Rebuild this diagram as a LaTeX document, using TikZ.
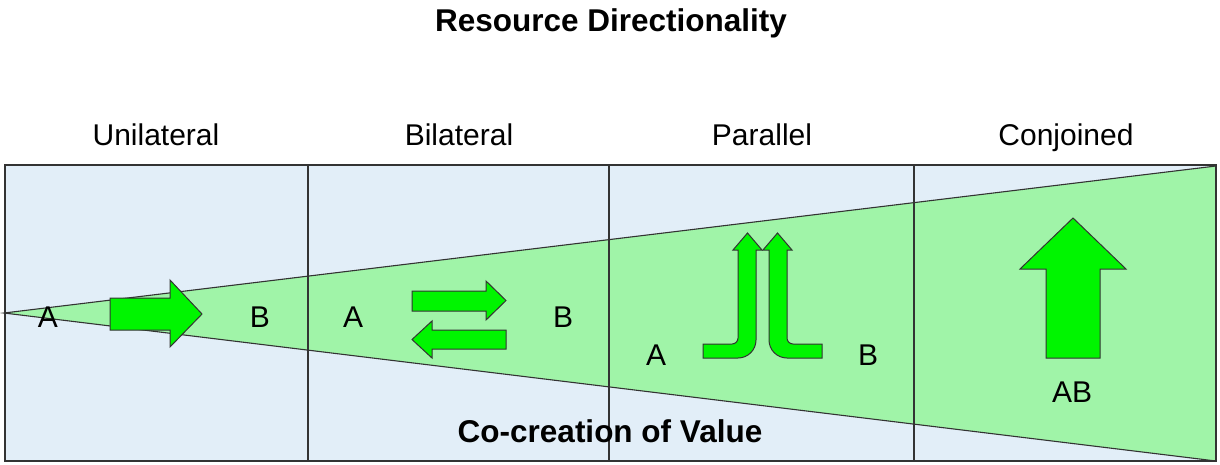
\documentclass[tikz,border=0pt]{standalone}
\usepackage{fontspec}
\setmainfont{Liberation Sans}
\definecolor{bgblue}{HTML}{E2EEF8}
\definecolor{conegreen}{HTML}{A0F4A8}
\definecolor{arrowgreen}{HTML}{00F500}
\definecolor{edge}{HTML}{333333}
\begin{document}
\begin{tikzpicture}[x=1pt,y=-1pt,
  lbl/.style={anchor=base,inner sep=0pt,font=\fontsize{30}{36}\selectfont},
  boldlbl/.style={anchor=base,inner sep=0pt,font=\fontsize{31.5}{38}\selectfont\bfseries},
  garrow/.style={fill=arrowgreen,draw=edge,line width=1pt,line join=miter},
  frameline/.style={draw=edge,line width=1.2pt}]
\useasboundingbox (0,0) rectangle (1220,464);
% background
\fill[bgblue] (5,165) rectangle (1216,461);
% cone
\coordinate (apex) at (4,313);
\coordinate (tr) at (1216,166);
\coordinate (br) at (1216,461);
\fill[conegreen] (apex) -- (tr) -- (br) -- cycle;
\draw[edge,line width=1.1pt] (tr) -- (apex) -- (br);
% dividers
\draw[frameline] (308,165) -- (308,461);
\draw[frameline] (609,165) -- (609,461);
\draw[frameline] (914,165) -- (914,461);
\draw[edge,line width=1.5pt] (5,165) rectangle (1216,461);
% texts
\node[boldlbl] (title) at (611,31) {Resource Directionality};
\node[lbl] (uni) at (156,145) {Unilateral};
\node[lbl] (bil) at (459,145) {Bilateral};
\node[lbl] (par) at (762,145) {Parallel};
\node[lbl] (con) at (1066,145) {Conjoined};
\node[lbl] (a1) at (48,327) {A};
\node[lbl] (b1) at (260,327) {B};
\node[lbl] (a2) at (353,327) {A};
\node[lbl] (b2) at (563,327) {B};
\node[lbl] (a3) at (656,365) {A};
\node[lbl] (b3) at (868,365) {B};
\node[lbl] (ab) at (1072,402) {AB};
\node[boldlbl] (cocre) at (610,442) {Co-creation of Value};
% unilateral arrow
\draw[garrow] (110,298) -- (170,298) -- (170,280) -- (202,314) -- (170,347) -- (170,330) -- (110,330) -- cycle;
% bilateral arrows
\draw[garrow] (412,291) -- (486,291) -- (486,281) -- (506,300.5) -- (486,320) -- (486,311) -- (412,311) -- cycle;
\draw[garrow] (506,330) -- (432,330) -- (432,321) -- (412,339.5) -- (432,358) -- (432,349) -- (506,349) -- cycle;
% parallel arrows
\draw[garrow] (703,344) [rounded corners=6pt] -- (738,344) [sharp corners] -- (738,250) -- (733,250) -- (747.5,233) -- (762,250) -- (756,250) [rounded corners=18pt] -- (756,358) [sharp corners] -- (703,358) -- cycle;
\draw[garrow] (822,344) [rounded corners=6pt] -- (787,344) [sharp corners] -- (787,250) -- (792,250) -- (777.5,233) -- (763,250) -- (769,250) [rounded corners=18pt] -- (769,358) [sharp corners] -- (822,358) -- cycle;
% conjoined arrow
\draw[garrow] (1046,358) -- (1046,269) -- (1020,269) -- (1073,218) -- (1126,269) -- (1100,269) -- (1100,358) -- cycle;
\end{tikzpicture}
\end{document}
